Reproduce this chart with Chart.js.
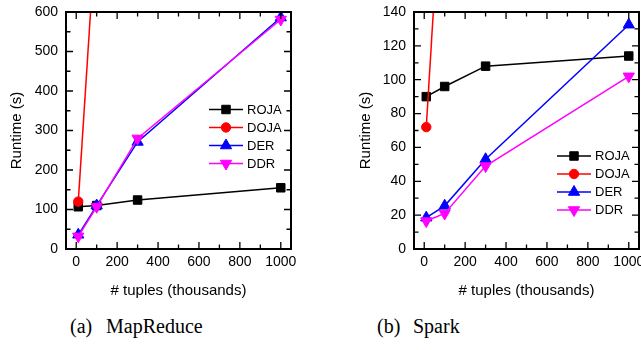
<!doctype html>
<html lang="en">
<head>
<meta charset="utf-8"/>
<title>Runtime vs. # tuples</title>
<script src="https://cdn.jsdelivr.net/npm/chart.js@4.4.0/dist/chart.umd.min.js"></script>
<style>
  html,body{margin:0;padding:0;background:#fff;width:641px;height:350px;overflow:hidden}
  .panel{position:absolute;top:0;height:300px}
  .cap{position:absolute;top:316px;font:20px 'Liberation Serif','Times New Roman',serif;line-height:20px;color:#000;white-space:nowrap}
</style>
</head>
<body>
<div class="panel" style="left:0;width:320px"><canvas id="mr"></canvas></div>
<div class="panel" style="left:320px;width:340px"><canvas id="sp"></canvas></div>
<div class="cap" style="left:70px">(a)</div><div class="cap" style="left:106px">MapReduce</div>
<div class="cap" style="left:377px">(b)</div><div class="cap" style="left:413px">Spark</div>

<script>
  // x = # tuples (thousands)
  const xValues = [10, 100, 300, 1000];
  const xTicks = [0, 200, 400, 600, 800, 1000];

  // (a) MapReduce runtimes (s)
  const mrRoja = [107, 110, 124, 155];
  const mrDoja = [120, 840];
  const mrDer  = [36, 110, 271, 586];
  const mrDdr  = [32, 107, 280, 581];
  const mrYTicks = [0, 100, 200, 300, 400, 500, 600];

  // (b) Spark runtimes (s)
  const spRoja = [90, 96, 108, 114];
  const spDoja = [72, 250];
  const spDer  = [18.5, 25.5, 53, 132.5];
  const spDdr  = [16.5, 21, 49, 102];
  const spYTicks = [0, 20, 40, 60, 80, 100, 120, 140];

  const seriesNames = ['ROJA', 'DOJA', 'DER', 'DDR'];

  const SANS = "'Liberation Sans', Arial, sans-serif";
  Chart.defaults.font.family = SANS;
  Chart.defaults.color = '#000';

  const pts = ys => ys.map((y, i) => ({x: xValues[i], y}));
  const mids = arr => arr.slice(1).map((v, i) => (v + arr[i]) / 2);

  // box round the plot + inward ticks on all four sides
  const framePlugin = {
    id: 'frame',
    afterDatasetsDraw(chart) {
      const {ctx, chartArea: a, scales: {x, y}} = chart;
      const xt = x.ticks.map(t => t.value), yt = y.ticks.map(t => t.value);
      ctx.save();
      ctx.strokeStyle = '#000';
      ctx.lineWidth = 1.3;
      ctx.beginPath();
      const tickX = (v, len) => {
        const p = x.getPixelForValue(v);
        ctx.moveTo(p, a.bottom); ctx.lineTo(p, a.bottom - len);
        ctx.moveTo(p, a.top); ctx.lineTo(p, a.top + len);
      };
      const tickY = (v, len) => {
        const p = y.getPixelForValue(v);
        ctx.moveTo(a.left, p); ctx.lineTo(a.left + len, p);
        ctx.moveTo(a.right, p); ctx.lineTo(a.right - len, p);
      };
      xt.forEach(v => tickX(v, 7));
      mids(xt).forEach(v => tickX(v, 4.5));
      yt.forEach(v => tickY(v, 7));
      mids(yt).forEach(v => tickY(v, 4.5));
      ctx.stroke();
      ctx.lineWidth = 2;
      ctx.strokeRect(a.left, a.top, a.right - a.left, a.bottom - a.top);
      ctx.restore();
    }
  };

  // legend inside the plot: line + marker + name
  const boxLegend = {
    id: 'boxLegend',
    afterDraw(chart, args, opts) {
      const {ctx, chartArea: a} = chart;
      const x0 = a.right + opts.dx;
      ctx.save();
      chart.data.datasets.forEach((ds, i) => {
        const yy = a.top + opts.dy + i * 18;
        ctx.strokeStyle = ds.borderColor;
        ctx.fillStyle = ds.borderColor;
        ctx.lineWidth = 1.5;
        ctx.beginPath();
        ctx.moveTo(x0, yy); ctx.lineTo(x0 + 34, yy);
        ctx.stroke();
        ctx.lineWidth = 1;
        Chart.helpers.drawPoint(ctx, {
          pointStyle: ds.pointStyle, rotation: ds.pointRotation || 0,
          radius: ds.pointRadius, borderWidth: 1
        }, x0 + 17, yy);
        ctx.fillStyle = '#000';
        ctx.font = '13px ' + SANS;
        ctx.textBaseline = 'middle';
        ctx.textAlign = 'left';
        ctx.fillText(ds.label, x0 + 38, yy + 0.5);
      });
      ctx.restore();
    }
  };

  function makeChart(id, d, yMax, yTicks, o) {
    const styles = [
      {color: '#000000', pointStyle: 'rect', r: 6, order: 3},
      {color: '#ff0000', pointStyle: 'circle', r: 4.7, order: 2},
      {color: '#0000ff', pointStyle: 'triangle', r: 6.5, order: 1},
      {color: '#ff00ff', pointStyle: 'triangle', r: 6.5, order: 0, rot: 180}
    ];
    return new Chart(document.getElementById(id), {
      type: 'line',
      data: {
        datasets: d.map((ys, i) => ({
          label: seriesNames[i],
          data: pts(ys),
          borderColor: styles[i].color,
          backgroundColor: styles[i].color,
          pointBackgroundColor: styles[i].color,
          pointBorderColor: styles[i].color,
          pointBorderWidth: 1,
          borderWidth: 1.5,
          tension: 0,
          pointStyle: styles[i].pointStyle,
          pointRotation: styles[i].rot || 0,
          pointRadius: styles[i].r,
          order: styles[i].order
        }))
      },
      options: {
        responsive: true,
        maintainAspectRatio: false,
        animation: false,
        events: [],
        layout: {padding: {top: 12, right: o.padRight, left: 0, bottom: 0}},
        plugins: {
          legend: {display: false},
          tooltip: {enabled: false},
          boxLegend: {dx: -82, dy: o.legendTop}
        },
        scales: {
          x: {
            type: 'linear', min: -50, max: 1050,
            grid: {display: false, drawTicks: false},
            border: {display: false},
            ticks: {font: {size: 14}, color: '#000', padding: 5, maxRotation: 0, callback: v => String(v)},
            title: {display: true, text: '# tuples (thousands)', font: {size: 15}, color: '#000', padding: {top: 3, bottom: 0}},
            afterBuildTicks: s => { s.ticks = xTicks.map(v => ({value: v})); },
            afterFit: s => { s.height = 51; s.paddingLeft = 0; s.paddingRight = 0; }
          },
          y: {
            type: 'linear', min: 0, max: yMax,
            grid: {display: false, drawTicks: false},
            border: {display: false},
            ticks: {font: {size: 14}, color: '#000', padding: 8, callback: v => String(v)},
            title: {display: true, text: 'Runtime (s)', font: {size: 15}, color: '#000', padding: {top: o.titlePad, bottom: 0}},
            afterBuildTicks: s => { s.ticks = yTicks.map(v => ({value: v})); },
            afterFit: s => { s.width = o.yWidth; s.paddingTop = 0; s.paddingBottom = 0; }
          }
        }
      },
      plugins: [framePlugin, boxLegend]
    });
  }

  makeChart('mr', [mrRoja, mrDoja, mrDer, mrDdr], 600, mrYTicks,
    {padRight: 29, yWidth: 66, titlePad: 8, legendTop: 97.5});
  makeChart('sp', [spRoja, spDoja, spDer, spDdr], 140, spYTicks,
    {padRight: 21, yWidth: 94, titlePad: 37, legendTop: 144});
</script>
</body>
</html>
